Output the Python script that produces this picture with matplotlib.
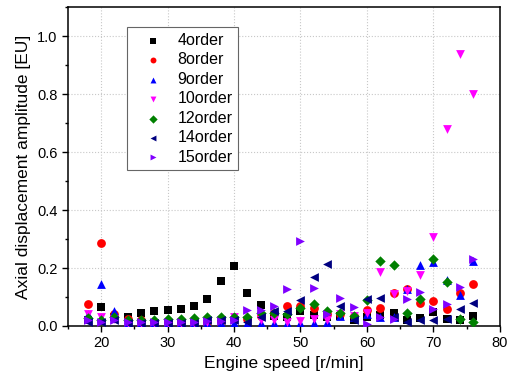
import numpy as np
import matplotlib.pyplot as plt
from matplotlib.ticker import MultipleLocator, FormatStrFormatter

plt.rcParams['font.family'] = ['Liberation Sans', 'DejaVu Sans']

# engine speed [r/min]
speed = [18, 20, 22, 24, 26, 28, 30, 32, 34, 36, 38, 40, 42, 44, 46,
         48, 50, 52, 54, 56, 58, 60, 62, 64, 66, 68, 70, 72, 74, 76]

# axial displacement amplitude per order [EU]
order4 = [0.020, 0.067, 0.030, 0.031, 0.045, 0.051, 0.056, 0.060, 0.070, 0.092,
          0.155, 0.207, 0.113, 0.071, 0.035, 0.030, 0.050, 0.037, 0.030, 0.035,
          0.020, 0.031, 0.038, 0.045, 0.020, 0.029, 0.048, 0.024, 0.020, 0.036]
order8 = [0.076, 0.288, 0.040, 0.025, 0.022, 0.015, 0.015, 0.015, 0.015, 0.015,
          0.018, 0.025, 0.025, 0.035, 0.045, 0.068, 0.070, 0.063, 0.040, 0.040,
          0.035, 0.055, 0.061, 0.113, 0.126, 0.080, 0.087, 0.058, 0.113, 0.144]
order9 = [0.040, 0.144, 0.050, 0.010, 0.010, 0.010, 0.010, 0.010, 0.010, 0.010,
          0.010, 0.010, 0.010, 0.010, 0.010, 0.010, 0.010, 0.010, 0.015, 0.035,
          0.030, 0.040, 0.030, 0.030, 0.128, 0.210, 0.220, 0.158, 0.108, 0.225]
order10 = [0.042, 0.032, 0.025, 0.012, 0.012, 0.012, 0.012, 0.012, 0.012, 0.015,
           0.020, 0.030, 0.020, 0.022, 0.020, 0.015, 0.018, 0.025, 0.020, 0.040,
           0.035, 0.045, 0.188, 0.112, 0.120, 0.176, 0.307, 0.678, 0.938, 0.800]
order12 = [0.028, 0.022, 0.030, 0.020, 0.020, 0.020, 0.025, 0.025, 0.028, 0.030,
           0.030, 0.030, 0.032, 0.045, 0.045, 0.042, 0.062, 0.077, 0.050, 0.045,
           0.035, 0.088, 0.225, 0.212, 0.044, 0.093, 0.232, 0.153, 0.023, 0.015]
order14 = [0.015, 0.015, 0.020, 0.010, 0.010, 0.010, 0.010, 0.010, 0.010, 0.020,
           0.020, 0.020, 0.015, 0.032, 0.052, 0.052, 0.090, 0.170, 0.215, 0.069,
           0.020, 0.092, 0.098, 0.030, 0.015, 0.019, 0.021, 0.023, 0.058, 0.078]
order15 = [0.020, 0.015, 0.020, 0.015, 0.015, 0.015, 0.015, 0.015, 0.015, 0.018,
           0.018, 0.020, 0.055, 0.054, 0.068, 0.128, 0.294, 0.130, 0.040, 0.097,
           0.065, 0.008, 0.030, 0.025, 0.092, 0.117, 0.058, 0.075, 0.136, 0.232]

series = [
    ('4order', order4, 's', '#000000'),
    ('8order', order8, 'o', '#ff0000'),
    ('9order', order9, '^', '#0000ff'),
    ('10order', order10, 'v', '#ff00ff'),
    ('12order', order12, 'D', '#008000'),
    ('14order', order14, '<', '#000080'),
    ('15order', order15, '>', '#8000ff'),
]

fig = plt.figure(figsize=(5.18, 3.78), dpi=100)
ax = fig.add_axes([0.131, 0.1376, 0.834, 0.8434])

for name, vals, mk, col in series:
    size = 28 if mk in ('D', 's') else 40
    ax.scatter(speed, vals, marker=mk, s=size, color=col, linewidths=0,
               label=name, zorder=3)

ax.set_xlim(15, 80)
ax.set_ylim(0, 1.1)
ax.xaxis.set_major_locator(MultipleLocator(10))
ax.xaxis.set_minor_locator(MultipleLocator(5))
ax.yaxis.set_major_locator(MultipleLocator(0.2))
ax.yaxis.set_minor_locator(MultipleLocator(0.1))
ax.yaxis.set_major_formatter(FormatStrFormatter('%.1f'))
ax.tick_params(which='major', direction='out', length=4, width=1, labelsize=10.5)
ax.tick_params(which='minor', direction='out', length=2.5, width=1)
ax.grid(True, which='major', color='#c8c8c8', linestyle=':', linewidth=0.8)
ax.set_axisbelow(True)
for sp in ax.spines.values():
    sp.set_linewidth(1.1)

ax.set_xlabel('Engine speed [r/min]', fontsize=12.5)
ax.set_ylabel('Axial displacement amplitude [EU]', fontsize=12.5)

leg = ax.legend(loc='upper left', bbox_to_anchor=(0.137, 0.937),
                borderaxespad=0, fontsize=11.5,
                handlelength=2.6, handletextpad=0.2, borderpad=0.35,
                labelspacing=0.28, fancybox=False, framealpha=1)
for h in leg.legend_handles:
    h.set_sizes([18])
leg.get_frame().set_edgecolor('#666666')
leg.get_frame().set_linewidth(0.8)

fig.savefig('out.png', dpi=100)
